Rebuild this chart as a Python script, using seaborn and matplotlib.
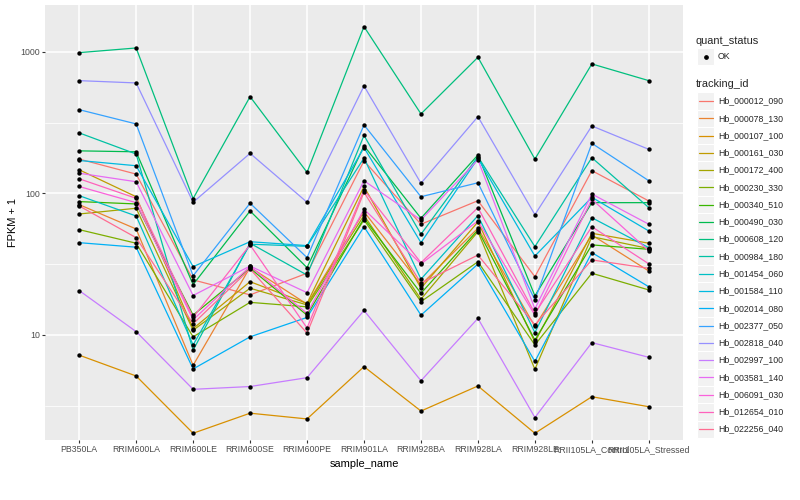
import matplotlib
matplotlib.use("Agg")
import matplotlib.pyplot as plt
from matplotlib.patches import Rectangle
from matplotlib.ticker import FixedLocator, NullFormatter
import pandas as pd
import seaborn as sns

samples = ["PB350LA", "RRIM600LA", "RRIM600LE", "RRIM600SE", "RRIM600PE", "RRIM901LA",
           "RRIM928BA", "RRIM928LA", "RRIM928LE", "RRII105LA_Control", "RRII105LA_Stressed"]

tracking_ids = ["Hb_000012_090", "Hb_000078_130", "Hb_000107_100", "Hb_000161_030",
                "Hb_000172_400", "Hb_000230_330", "Hb_000340_510", "Hb_000490_030",
                "Hb_000608_120", "Hb_000984_180", "Hb_001454_060", "Hb_001584_110",
                "Hb_002014_080", "Hb_002377_050", "Hb_002818_040", "Hb_002997_100",
                "Hb_003581_140", "Hb_006091_030", "Hb_012654_010", "Hb_022256_040"]

# ggplot default hue palette for 20 levels
colors = ["#F8766D", "#EA8331", "#D89000", "#C09B00", "#A3A500", "#7CAE00", "#39B600",
          "#00BB4E", "#00BF7D", "#00C1A3", "#00BFC4", "#00BAE0", "#00B0F6", "#35A2FF",
          "#9590FF", "#C77CFF", "#E76BF3", "#FA62DB", "#FF62BC", "#FF6C91"]

# FPKM + 1, one row per tracking_id, one value per sample
fpkm_plus1 = [
    [175, 137, 24.5, 19.2, 27.3, 170, 60.6, 88.9, 25.8, 145, 88.5],
    [83.4, 56.1, 6.1, 30.1, 16.5, 74.3, 22.6, 56.8, 11.5, 50.9, 28.3],
    [7.2, 5.13, 2.02, 2.80, 2.55, 5.97, 2.90, 4.36, 2.02, 3.66, 3.11],
    [147, 94.8, 11.1, 23.8, 16.7, 112, 21.4, 62.9, 8.9, 52.3, 44.5],
    [71.6, 78.6, 10.8, 21.4, 16.3, 70, 17.9, 53.7, 5.72, 49.5, 40.8],
    [55.5, 44.5, 9.7, 17.0, 15.8, 65, 17.2, 32.9, 8.5, 27.3, 20.8],
    [87.6, 84.3, 13.8, 29.6, 13.8, 66.8, 19.7, 55.2, 9.2, 43.3, 40.3],
    [200, 197, 22.7, 75.2, 29.9, 217, 66.8, 187, 18.9, 86.1, 86.1],
    [989, 1067, 92, 483, 141, 1510, 365, 917, 175, 823, 627],
    [268, 190, 7.8, 44.5, 26.5, 257, 51.5, 182, 42.1, 179, 79.4],
    [96.5, 69.3, 8.5, 43.8, 42.3, 178, 24.8, 69.7, 10.4, 67.4, 41.4],
    [171, 157, 30.4, 45.6, 42.8, 211, 44.9, 177, 36.1, 93.9, 54.3],
    [44.9, 41.7, 5.75, 9.7, 13.3, 58.2, 13.8, 31.7, 6.5, 38.2, 21.9],
    [391, 310, 26.2, 85.3, 35.2, 305, 94.8, 119, 17.7, 226, 123],
    [627, 604, 86.7, 192, 86.7, 575, 118, 349, 70.8, 300, 205],
    [20.6, 10.56, 4.13, 4.32, 4.99, 14.9, 4.75, 13.1, 2.61, 8.83, 6.95],
    [139, 121, 19.0, 30.7, 19.9, 123, 65, 173, 15.3, 99.1, 60.6],
    [112, 86.1, 12.8, 30.5, 14.2, 77.3, 31.8, 63.9, 13.8, 91.0, 39.3],
    [127, 92.4, 13.3, 43.3, 11.2, 106, 32.4, 79.4, 14.2, 58.2, 31.8],
    [81.6, 48.7, 12.0, 29.3, 10.3, 102, 23.2, 36.7, 11.8, 33.9, 29.6],
]
quant_status = ["OK"]

rows = []
for tid, vals in zip(tracking_ids, fpkm_plus1):
    for s, v in zip(samples, vals):
        rows.append((tid, s, v, quant_status[0]))
df = pd.DataFrame(rows, columns=["tracking_id", "sample_name", "fpkm", "quant_status"])
df["pos"] = df["sample_name"].map({s: i for i, s in enumerate(samples)})

sns.set_theme(style="darkgrid", rc={"axes.facecolor": "#EBEBEB"})
plt.rcParams["font.family"] = ["Liberation Sans", "DejaVu Sans"]

fig = plt.figure(figsize=(8, 5), dpi=100)
ax = fig.add_axes([45 / 800, 60 / 500, 638 / 800, 435 / 500])

sns.lineplot(data=df, x="pos", y="fpkm", hue="tracking_id", hue_order=tracking_ids,
             palette=dict(zip(tracking_ids, colors)), estimator=None, sort=False,
             lw=0.9, legend=False, ax=ax)
sns.scatterplot(data=df, x="pos", y="fpkm", color="black", s=10, linewidth=0,
                legend=False, ax=ax, zorder=3)

ax.set_yscale("log")
ax.set_ylim(1.81, 2147)
ax.set_xlim(-0.6, 10.6)
ax.set_xticks(range(len(samples)))
ax.set_xticklabels(samples)
ax.yaxis.set_major_locator(FixedLocator([10, 100, 1000]))
ax.yaxis.set_minor_locator(FixedLocator([10 ** 0.5, 10 ** 1.5, 10 ** 2.5]))
ax.yaxis.set_minor_formatter(NullFormatter())
ax.set_yticklabels(["10", "100", "1000"])
ax.grid(which="major", color="white", lw=1.1)
ax.grid(which="minor", axis="y", color="white", lw=0.55)
ax.tick_params(which="major", length=2, width=0.8, color="#333333", labelcolor="#4D4D4D",
               labelsize=6.3, pad=1.5, left=True, bottom=True)
ax.tick_params(which="minor", length=0)
for sp in ax.spines.values():
    sp.set_visible(False)
ax.set_xlabel("sample_name", fontsize=7.9, color="black", labelpad=4)
ax.set_ylabel("FPKM + 1", fontsize=7.9, color="black", labelpad=2)

# legends drawn in pixel coordinates, ggplot style
lax = fig.add_axes([0, 0, 1, 1])
lax.set_xlim(0, 800)
lax.set_ylim(500, 0)
lax.axis("off")
lax.text(696, 41, "quant_status", fontsize=7.9, va="center", ha="left")
lax.add_patch(Rectangle((697, 48), 17.3, 17.3, facecolor="#F2F2F2", edgecolor="white", lw=0.8))
lax.plot([705.6], [56.6], "o", color="black", ms=2.4)
lax.text(718, 56.6, quant_status[0], fontsize=6.3, va="center", ha="left")
lax.text(696, 84, "tracking_id", fontsize=7.9, va="center", ha="left")
step = 17.27
for i, (tid, c) in enumerate(zip(tracking_ids, colors)):
    top = 92.4 + i * step
    lax.add_patch(Rectangle((697, top), 17.3, step, facecolor="#F2F2F2", edgecolor="white", lw=0.8))
    lax.plot([698.5, 712.8], [top + step / 2] * 2, color=c, lw=0.9)
    lax.text(718, top + step / 2, tid, fontsize=6.3, va="center", ha="left")

fig.savefig("out.png", dpi=100)
